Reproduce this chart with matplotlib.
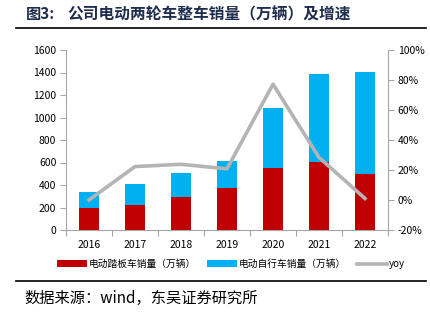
import matplotlib
matplotlib.use("Agg")
import matplotlib.pyplot as plt
from matplotlib.patches import Patch
from matplotlib.lines import Line2D
from matplotlib.ticker import FixedLocator

plt.rcParams['font.family'] = ['Noto Sans CJK SC', 'DejaVu Sans']

# Data
years = ['2016', '2017', '2018', '2019', '2020', '2021', '2022']
scooter = [198, 222, 293, 373, 551, 607, 498]        # 电动踏板车销量（万辆）
bicycle = [137, 187, 214, 240, 533, 783, 906]        # 电动自行车销量（万辆）
yoy = [0.0, 22.3, 23.8, 20.8, 77.2, 28.4, 1.0]       # %

RED = '#C00000'
BLUE = '#00B0F0'
GRAY = '#B4B4B4'
AXC = '#A6A6A6'

fig = plt.figure(figsize=(4.31, 3.21), dpi=100)
ax = fig.add_axes([66 / 431, 91 / 321, 322 / 431, 180 / 321])
ax2 = ax.twinx()

x = list(range(len(years)))
ax.bar(x, scooter, width=0.42, color=RED, zorder=2)
ax.bar(x, bicycle, width=0.42, bottom=scooter, color=BLUE, zorder=2)
ax2.plot(x, yoy, color=GRAY, linewidth=2.6, zorder=3)

ax.set_xlim(-0.5, len(years) - 0.5)
ax.set_ylim(0, 1600)
ax.set_yticks(range(0, 1601, 200))
ax2.set_ylim(-20, 100)
ax2.set_yticks(range(-20, 101, 20))
ax2.set_yticklabels([f'{v}%' for v in range(-20, 101, 20)])

ax.set_xticks(x)
ax.set_xticklabels(years)
ax.xaxis.set_minor_locator(FixedLocator([i - 0.5 for i in range(len(years) + 1)]))
ax.tick_params(axis='x', which='major', length=0, pad=7)
ax.tick_params(axis='x', which='minor', length=4, color=AXC, width=0.8)
ax.tick_params(axis='y', length=4, color=AXC, width=0.8, labelsize=7.5, pad=3)
ax.tick_params(axis='x', labelsize=7.5)
ax2.tick_params(axis='y', length=4, color=AXC, width=0.8, labelsize=7.5, pad=3)

for a in (ax, ax2):
    a.spines['top'].set_visible(False)
    for s in ('left', 'right', 'bottom'):
        a.spines[s].set_color(AXC)
        a.spines[s].set_linewidth(0.8)
ax2.spines['left'].set_visible(False)
ax2.spines['bottom'].set_visible(False)
ax.spines['right'].set_visible(False)

handles = [Patch(facecolor=RED), Patch(facecolor=BLUE),
           Line2D([0], [0], color=GRAY, linewidth=2.6)]
labels = ['电动踏板车销量（万辆）', '电动自行车销量（万辆）', 'yoy']
fig.legend(handles, labels, loc='center', bbox_to_anchor=(231 / 431, 57 / 321), ncol=3,
           frameon=False, fontsize=7, handlelength=3.1, handleheight=0.6,
           handletextpad=0.2, columnspacing=1.1)

# Title and source with rules
fig.text(26 / 431, 1 - 14 / 321, '图3:', fontsize=11, fontweight='bold',
         color='#1F2D4F', va='center')
fig.text(67 / 431, 1 - 14 / 321, '公司电动两轮车整车销量（万辆）及增速',
         fontsize=11.3, fontweight='bold', color='#1F2D4F', va='center')
fig.add_artist(Line2D([16 / 431, 426 / 431], [1 - 28 / 321] * 2, color='black', linewidth=1.2))
fig.add_artist(Line2D([16 / 431, 426 / 431], [1 - 281 / 321] * 2, color='black', linewidth=1.2))
fig.text(24 / 431, 1 - 298 / 321, '数据来源：wind，东吴证券研究所',
         fontsize=11, color='black', va='center')

fig.savefig('out.png', dpi=100)
